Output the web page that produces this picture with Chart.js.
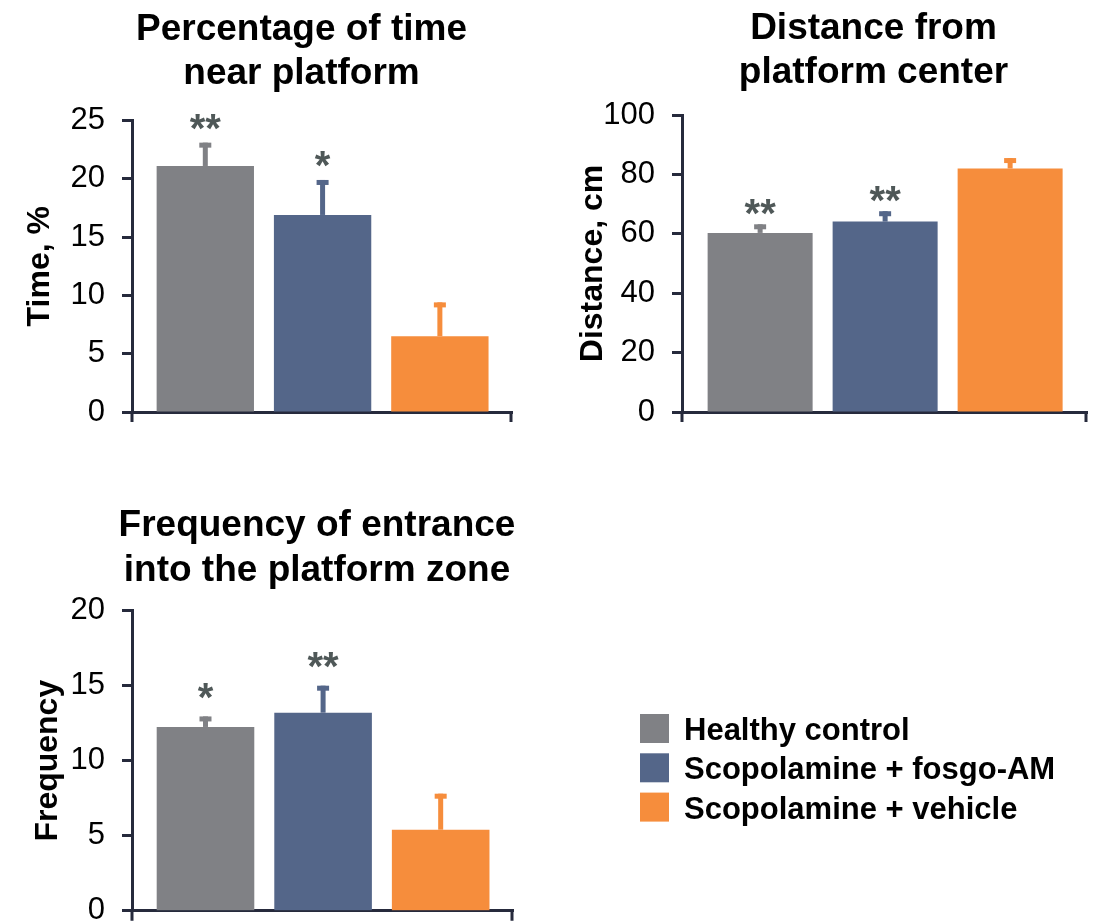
<!DOCTYPE html>
<html>
<head>
<meta charset="utf-8">
<script src="https://cdn.jsdelivr.net/npm/chart.js@4.4.1/dist/chart.umd.min.js"></script>
<style>
  html, body { margin: 0; padding: 0; background: #ffffff; overflow: hidden; }
  body { width: 1099px; height: 921px; position: relative; }
  canvas { position: absolute; left: 0; top: 0; }
</style>
</head>
<body>
<canvas id="c1" width="1099" height="921"></canvas>
<canvas id="c2" width="1099" height="921"></canvas>
<canvas id="c3" width="1099" height="921"></canvas>
<script>
// ---------------- data ----------------
const groups = ['Healthy control', 'Scopolamine + fosgo-AM', 'Scopolamine + vehicle'];
const groupColors = ['#808185', '#546689', '#f68d3c'];

const timeValues = [21.1, 16.9, 6.5];
const timeErrors = [2.0, 3.0, 2.9];
const timeStars = ['**', '*', ''];
const timeTicks = [0, 5, 10, 15, 20, 25];

const distanceValues = [60.3, 64.1, 82.0];
const distanceErrors = [2.9, 3.5, 3.5];
const distanceStars = ['**', '**', ''];
const distanceTicks = [0, 20, 40, 60, 80, 100];

const frequencyValues = [12.25, 13.2, 5.4];
const frequencyErrors = [0.7, 1.8, 2.4];
const frequencyStars = ['*', '**', ''];
const frequencyTicks = [0, 5, 10, 15, 20];

// ---------------- styles ----------------
const FONT = '"Liberation Sans", Arial, Helvetica, sans-serif';
const AXIS = '#262a3c';
const STAR = '#4f5858';
const W = 1099, H = 921;

function makeChart(id, cfg) {
  const plugin = {
    id: 'deco_' + id,
    afterDraw(chart) {
      const ctx = chart.ctx;
      const area = chart.chartArea;
      const ys = chart.scales.y;
      const meta = chart.getDatasetMeta(0);
      ctx.save();
      // axis extensions (below x axis at both ends)
      ctx.strokeStyle = AXIS;
      ctx.lineWidth = 3;
      ctx.beginPath();
      ctx.moveTo(area.left, area.bottom);
      ctx.lineTo(area.left, area.bottom + 10);
      ctx.moveTo(area.right - 1, area.bottom);
      ctx.lineTo(area.right - 1, area.bottom + 10);
      ctx.stroke();

      // error bars + stars
      meta.data.forEach((bar, i) => {
        const v = cfg.values[i] + cfg.errors[i];
        const yTop = ys.getPixelForValue(v);
        ctx.fillStyle = groupColors[i];
        ctx.fillRect(bar.x - 2.5, yTop, 5, bar.y - yTop);
        ctx.fillRect(bar.x - 6, yTop, 12, 5);
        if (cfg.stars[i]) {
          ctx.fillStyle = STAR;
          ctx.font = 'bold 40px ' + FONT;
          ctx.textAlign = 'center';
          ctx.textBaseline = 'alphabetic';
          ctx.fillText(cfg.stars[i], bar.x, yTop - cfg.starGap + 19);
        }
      });

      // chart title
      ctx.fillStyle = '#000000';
      ctx.font = 'bold 37px ' + FONT;
      ctx.textAlign = 'center';
      ctx.textBaseline = 'alphabetic';
      cfg.title.forEach((line, k) => {
        ctx.fillText(line, cfg.titleX, cfg.titleBase + k * 44.5);
      });

      // y axis title
      ctx.save();
      ctx.font = 'bold 32px ' + FONT;
      ctx.translate(cfg.yTitleX, (area.top + area.bottom) / 2);
      ctx.rotate(-Math.PI / 2);
      ctx.textAlign = 'center';
      ctx.textBaseline = 'alphabetic';
      ctx.fillText(cfg.yTitle, 0, 0);
      ctx.restore();

      // legend
      if (cfg.legend) {
        groups.forEach((g, i) => {
          const top = 714 + i * 39.3;
          ctx.fillStyle = groupColors[i];
          ctx.fillRect(640, top, 29, 29);
          ctx.fillStyle = '#000000';
          ctx.font = 'bold 31px ' + FONT;
          ctx.textAlign = 'left';
          ctx.textBaseline = 'alphabetic';
          ctx.fillText(g, 684, top + 26);
        });
      }
      ctx.restore();
    }
  };

  const ticks = cfg.ticks;
  return new Chart(document.getElementById(id), {
    type: 'bar',
    data: {
      labels: groups,
      datasets: [{
        data: cfg.values.map((v, i) => ({ x: i, y: v })),
        backgroundColor: groupColors,
        borderWidth: 0,
        barPercentage: cfg.barPct,
        categoryPercentage: 1
      }]
    },
    options: {
      responsive: false,
      animation: false,
      devicePixelRatio: 1,
      layout: {
        padding: { left: 0, top: cfg.area.top, right: W - cfg.area.right, bottom: H - cfg.area.bottom }
      },
      plugins: { legend: { display: false }, title: { display: false }, tooltip: { enabled: false } },
      scales: {
        x: {
          type: 'linear',
          min: -0.625,
          max: 2.615,
          offset: false,
          ticks: { display: false },
          grid: { display: false },
          border: { display: true, color: AXIS, width: 3 },
          afterBuildTicks(s) { s.ticks = groups.map((g, i) => ({ value: i })); },
          afterFit(s) { s.height = 0; s.paddingLeft = 0; s.paddingRight = 0; }
        },
        y: {
          min: ticks[0],
          max: ticks[ticks.length - 1],
          ticks: {
            stepSize: ticks[1] - ticks[0],
            color: '#000000',
            padding: 17,
            font: { family: FONT, size: 31 }
          },
          grid: {
            display: true,
            drawOnChartArea: false,
            drawTicks: true,
            tickLength: 10,
            tickWidth: 3,
            tickColor: AXIS
          },
          border: { display: true, color: AXIS, width: 3 },
          afterFit(s) { s.width = cfg.area.left; s.paddingTop = 0; s.paddingBottom = 0; }
        }
      }
    },
    plugins: [plugin]
  });
}

makeChart('c1', {
  area: { left: 132, right: 512, top: 120.5, bottom: 412 },
  values: timeValues, errors: timeErrors, stars: timeStars, ticks: timeTicks,
  title: ['Percentage of time', 'near platform'], titleX: 301.5, titleBase: 39.5,
  yTitle: 'Time, %', yTitleX: 48.5, barPct: 0.83, starGap: 20
});
makeChart('c2', {
  area: { left: 682, right: 1087, top: 115, bottom: 412 },
  values: distanceValues, errors: distanceErrors, stars: distanceStars, ticks: distanceTicks,
  title: ['Distance from', 'platform center'], titleX: 873.5, titleBase: 38.5,
  yTitle: 'Distance, cm', yTitleX: 602, barPct: 0.84, starGap: 16.5
});
makeChart('c3', {
  area: { left: 132, right: 513, top: 610.7, bottom: 910.7 },
  values: frequencyValues, errors: frequencyErrors, stars: frequencyStars, ticks: frequencyTicks,
  title: ['Frequency of entrance', 'into the platform zone'], titleX: 317, titleBase: 536,
  yTitle: 'Frequency', yTitleX: 57, barPct: 0.83, starGap: 24.5, legend: true
});
</script>
</body>
</html>
